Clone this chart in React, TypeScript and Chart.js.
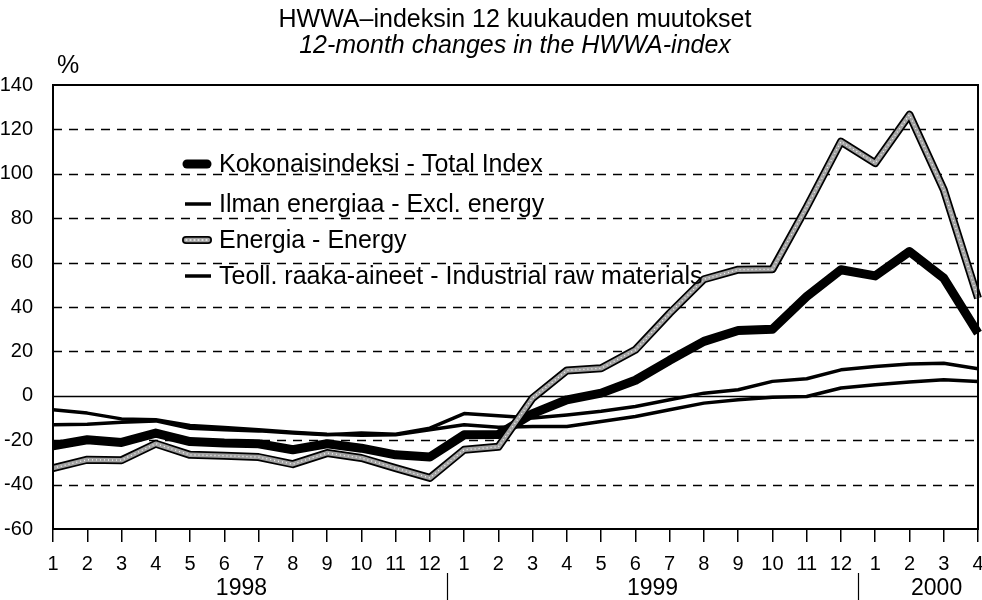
import React, { useEffect, useRef } from 'react';
import { Chart, registerables } from 'chart.js';

Chart.register(...registerables);

const monthLabels = ['1','2','3','4','5','6','7','8','9','10','11','12','1','2','3','4','5','6','7','8','9','10','11','12','1','2','3','4'];
const years = ['1998', '1999', '2000'];
const yearMonthCounts = [12, 12, 4];

const totalIndex = [-22.5, -19.8, -21, -16.8, -20.6, -21.3, -21.6, -24.3, -21.6, -23.6, -26.6, -27.6, -17.6, -17.4, -8, -1.8, 1.2, 7, 16, 24.5, 29.4, 30, 44.7, 56.8, 54, 65, 53, 28.2];
const exclEnergy = [-6.3, -7.8, -10.4, -10.8, -13.4, -14.3, -15.3, -16.4, -17.3, -17.8, -17.6, -15.3, -13, -14.2, -13.8, -13.8, -11.6, -9.3, -6.3, -3.3, -1.8, -0.7, -0.3, 3.5, 5, 6.2, 7.2, 6.4];
const energy = [-32.6, -28.8, -29, -21.6, -26.6, -27, -27.6, -30.8, -25.8, -28, -32.6, -37, -24.3, -23, -1, 11.4, 12.4, 20.7, 37.2, 52.5, 56.8, 57, 85, 114.5, 104.8, 126.6, 92.8, 44];
const industrial = [-13, -12.8, -11.9, -11.3, -14.6, -15.3, -15.8, -16.8, -17.6, -16.8, -17.3, -14.6, -8, -9, -10, -8.6, -7, -4.8, -1.8, 1.2, 2.7, 6.5, 7.7, 11.7, 13.2, 14.3, 14.7, 12.2];

const legendLabels = [
  'Kokonaisindeksi - Total Index',
  'Ilman energiaa - Excl. energy',
  'Energia - Energy',
  'Teoll. raaka-aineet - Industrial raw materials',
];
const titleLine1 = 'HWWA\u2013indeksin 12 kuukauden muutokset';
const titleLine2 = '12-month changes in the HWWA-index';
const yUnit = '%';
const yMin = -60;
const yMax = 140;
const yStep = 20;

const FONT = "'Liberation Sans', Arial, sans-serif";

function drawEnergyStroke(ctx: CanvasRenderingContext2D, x1: number, y: number, x2: number) {
  ctx.save();
  ctx.lineCap = 'round';
  ctx.strokeStyle = '#000';
  ctx.lineWidth = 8;
  ctx.beginPath(); ctx.moveTo(x1, y); ctx.lineTo(x2, y); ctx.stroke();
  ctx.strokeStyle = '#a0a0a0';
  ctx.lineWidth = 4.5;
  ctx.beginPath(); ctx.moveTo(x1, y); ctx.lineTo(x2, y); ctx.stroke();
  ctx.strokeStyle = 'rgba(255,255,255,0.9)';
  ctx.lineWidth = 1.3;
  ctx.setLineDash([1, 3]);
  ctx.beginPath(); ctx.moveTo(x1, y); ctx.lineTo(x2, y); ctx.stroke();
  ctx.restore();
}

const decorPlugin = {
  id: 'decor',
  beforeDatasetsDraw(chart: any) {
    const { ctx, chartArea, scales } = chart;
    const y = scales.y;
    ctx.save();
    y.ticks.forEach((t: any) => {
      const v = t.value;
      if (v === yMin || v === yMax) return;
      const py = Math.round(y.getPixelForValue(v)) + 0.5;
      ctx.beginPath();
      ctx.strokeStyle = '#000';
      ctx.lineWidth = 1.5;
      ctx.setLineDash(v === 0 ? [] : [9, 7]);
      ctx.moveTo(chartArea.left, py);
      ctx.lineTo(chartArea.right, py);
      ctx.stroke();
    });
    ctx.restore();
  },
  afterDraw(chart: any) {
    const { ctx, chartArea, scales } = chart;
    const x = scales.x;
    ctx.save();
    // plot border
    ctx.strokeStyle = '#000';
    ctx.lineWidth = 2;
    ctx.setLineDash([]);
    ctx.strokeRect(chartArea.left, chartArea.top, chartArea.right - chartArea.left, chartArea.bottom - chartArea.top);

    // titles
    ctx.fillStyle = '#000';
    ctx.textAlign = 'center';
    ctx.textBaseline = 'middle';
    const cx = 515;
    ctx.font = `25px ${FONT}`;
    ctx.fillText(titleLine1, cx, 20);
    ctx.font = `italic 25px ${FONT}`;
    ctx.fillText(titleLine2, cx, 46);
    ctx.font = `25px ${FONT}`;
    ctx.textAlign = 'left';
    ctx.fillText(yUnit, chartArea.left + 4, 66);

    // years
    ctx.font = `23px ${FONT}`;
    ctx.textAlign = 'center';
    let s = 0;
    yearMonthCounts.forEach((cnt, k) => {
      const e = s + cnt - 1;
      const xs = x.getPixelForValue(s);
      const xe = x.getPixelForValue(e);
      ctx.fillText(years[k], (xs + xe) / 2 + (k === years.length - 1 ? 10 : 0), chartArea.bottom + 60);
      if (k < years.length - 1) {
        const xm = Math.round((xe + x.getPixelForValue(e + 1)) / 2) + 0.5;
        ctx.beginPath();
        ctx.lineWidth = 1.2;
        ctx.moveTo(xm, chartArea.bottom + 44);
        ctx.lineTo(xm, chartArea.bottom + 72);
        ctx.stroke();
      }
      s += cnt;
    });

    // legend
    const lx1 = chartArea.left + 130;
    const lx2 = chartArea.left + 158;
    const tx = chartArea.left + 166;
    const rows = [chartArea.top + 79, chartArea.top + 119, chartArea.top + 155, chartArea.top + 191];
    ctx.textAlign = 'left';
    ctx.font = `25px ${FONT}`;
    legendLabels.forEach((lab, i) => {
      const ry = rows[i];
      if (i === 2) {
        drawEnergyStroke(ctx, lx1 + 3, ry, lx2 - 3);
      } else {
        ctx.save();
        ctx.strokeStyle = '#000';
        ctx.lineCap = i === 0 ? 'round' : 'butt';
        ctx.lineWidth = i === 0 ? 9 : 3.5;
        ctx.beginPath();
        ctx.moveTo(i === 0 ? lx1 + 4 : lx1 + 2, ry);
        ctx.lineTo(i === 0 ? lx2 - 4 : lx2, ry);
        ctx.stroke();
        ctx.restore();
      }
      ctx.fillStyle = '#000';
      ctx.fillText(lab, tx, ry + 1);
    });
    ctx.restore();
  },
};

export default function App() {
  const ref = useRef<HTMLCanvasElement | null>(null);
  useEffect(() => {
    document.body.style.margin = '0';
    const canvas = ref.current;
    if (!canvas) return;
    const lineBase = { pointRadius: 0, tension: 0, borderJoinStyle: 'round' as const, fill: false };
    const chart = new Chart(canvas, {
      type: 'line',
      data: {
        labels: monthLabels,
        datasets: [
          { ...lineBase, label: legendLabels[2] + ' (inner)', data: energy, borderColor: 'rgba(255,255,255,0.9)', borderWidth: 1.3, borderDash: [1, 3] },
          { ...lineBase, label: legendLabels[2] + ' (fill)', data: energy, borderColor: '#a0a0a0', borderWidth: 4.5 },
          { ...lineBase, label: legendLabels[2], data: energy, borderColor: '#000', borderWidth: 8 },
          { ...lineBase, label: legendLabels[0], data: totalIndex, borderColor: '#000', borderWidth: 9 },
          { ...lineBase, label: legendLabels[1], data: exclEnergy, borderColor: '#000', borderWidth: 3.5 },
          { ...lineBase, label: legendLabels[3], data: industrial, borderColor: '#000', borderWidth: 3.5 },
        ],
      },
      options: {
        animation: false,
        responsive: false,
        maintainAspectRatio: false,
        devicePixelRatio: 1,
        layout: { padding: { top: 85, right: 4, left: 0, bottom: 0 } },
        plugins: { legend: { display: false }, tooltip: { enabled: false }, title: { display: false } },
        scales: {
          x: {
            type: 'category',
            offset: false,
            grid: { display: true, drawOnChartArea: false, drawTicks: true, tickLength: 13, color: '#000', lineWidth: 1.5 },
            border: { display: false },
            ticks: { color: '#000', font: { family: FONT, size: 20 }, padding: 10, maxRotation: 0, autoSkip: false },
            afterFit: (s: any) => { s.height = 71; s.paddingLeft = 0; s.paddingRight = 0; },
          },
          y: {
            min: yMin,
            max: yMax,
            grid: { display: false },
            border: { display: false },
            ticks: { stepSize: yStep, color: '#000', font: { family: FONT, size: 20 }, padding: 12 },
            afterFit: (s: any) => { s.width = 53; },
          },
        },
      },
      plugins: [decorPlugin],
    });
    return () => chart.destroy();
  }, []);
  return <canvas ref={ref} width={982} height={600} style={{ display: 'block' }} />;
}
